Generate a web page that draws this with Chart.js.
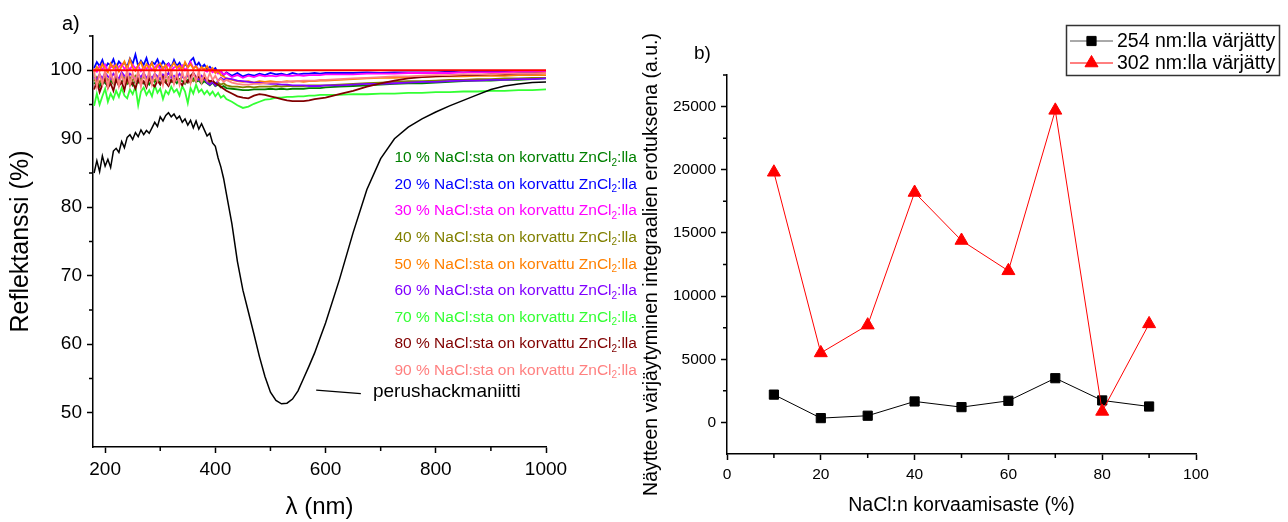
<!DOCTYPE html>
<html>
<head>
<meta charset="utf-8">
<title>Reflektanssi ja värjäytyminen</title>
<script src="https://cdn.jsdelivr.net/npm/chart.js@4.4.1/dist/chart.umd.min.js"></script>
<style>
  html, body { margin: 0; padding: 0; background: #fff; }
  #wrap { position: relative; width: 1288px; height: 522px; overflow: hidden; }
  #spectra { position: absolute; left: 0; top: 0; }
  #staining { position: absolute; left: 640px; top: 0; }
</style>
</head>
<body>
<div id="wrap">
  <canvas id="spectra" width="640" height="522"></canvas>
  <canvas id="staining" width="648" height="522"></canvas>
</div>
<script>
const FONT = '"Liberation Sans", Arial, sans-serif';
Chart.defaults.font.family = FONT;
Chart.defaults.color = '#000';

// ---- a) reflectance spectra ----
// wavelength grid in nm, shared by every spectrum
const wavelength = [
  180, 185, 190, 195, 200, 205, 210, 215, 220, 225, 230, 235, 240, 245, 250, 255, 260, 265, 270, 275,
  280, 285, 290, 295, 300, 305, 310, 315, 320, 325, 330, 335, 340, 345, 350, 355, 360, 365, 370, 375,
  380, 385, 390, 395, 400, 405, 410, 415, 420,
  430, 440, 450, 460, 470, 480, 490, 500, 510, 520, 530, 540, 550, 560, 570, 580, 590, 600,
  625, 650, 675, 700, 725, 750, 775, 800, 825, 850, 875, 900, 925, 950, 975, 1000
];

const perushackmaniitti = [
  85.0, 86.8, 85.2, 87.5, 86.0, 87.0, 85.8, 88.2, 88.6, 88.0, 89.6, 88.7, 90.2, 90.6, 89.9, 90.9, 90.3, 91.3, 90.6, 91.2,
  90.8, 91.6, 92.4, 91.8, 93.2, 92.6, 93.4, 93.8, 93.2, 93.6, 92.9, 93.3, 92.4, 92.9, 92.0, 92.7, 91.6, 92.6, 91.4, 92.2,
  91.3, 90.4, 90.8, 89.4, 88.9, 87.2, 85.9, 84.2, 82.0,
  77.6, 72.1, 67.9, 64.7, 61.5, 58.2, 55.3, 53.0, 51.8, 51.3, 51.4, 52.0, 53.2, 55.0, 56.8, 58.7, 60.9, 63.1,
  69.4, 76.3, 82.6, 87.1, 90.0, 91.7, 92.9, 93.9, 94.8, 95.6, 96.4, 97.2, 97.7, 98.0, 98.2, 98.3
];

const nacl10 = [
  98.0, 98.4, 97.6, 98.6, 98.1, 97.7, 98.5, 98.0, 98.7, 97.9, 98.3, 98.8, 98.0, 98.5, 97.8, 98.6, 98.2, 98.9, 98.1, 98.4,
  97.9, 98.7, 98.3, 98.8, 98.0, 98.5, 98.2, 98.9, 98.3, 98.6, 98.1, 98.7, 98.4, 98.0, 98.6, 98.2, 98.8, 98.3, 98.5, 98.0,
  98.4, 98.1, 97.8, 98.2, 97.7, 97.9, 97.5, 97.7, 97.4,
  97.3, 97.2, 97.1, 97.1, 97.2, 97.2, 97.2, 97.3, 97.2, 97.3, 97.2, 97.3, 97.3, 97.3, 97.4, 97.4, 97.4, 97.5,
  97.6, 97.7, 97.8, 97.9, 98.0, 98.1, 98.1, 98.2, 98.3, 98.4, 98.5, 98.5, 98.6, 98.6, 98.7, 98.8
];

const nacl20 = [
  100.3, 101.2, 100.6, 101.5, 100.2, 101.0, 100.7, 101.6, 100.4, 101.3, 100.8, 101.1, 100.5, 101.7, 100.9, 102.3, 100.6, 101.4, 100.8, 101.8,
  100.4, 101.2, 100.9, 101.6, 100.5, 101.3, 100.7, 101.0, 100.4, 101.5, 100.6, 101.1, 100.3, 100.9, 100.5, 101.4, 101.8, 100.6, 101.1, 100.4,
  100.8, 100.2, 100.5, 100.0, 100.3, 99.6, 99.9, 99.3, 99.7,
  99.2, 99.6, 99.1, 99.4, 99.2, 99.5, 99.3, 99.6, 99.4, 99.5, 99.3, 99.6, 99.4, 99.5, 99.5, 99.6, 99.5, 99.6,
  99.6, 99.6, 99.7, 99.6, 99.7, 99.7, 99.7, 99.7, 99.8, 99.7, 99.8, 99.8, 99.8, 99.8, 99.8, 99.8
];

const nacl30 = [
  100.2, 99.8, 100.6, 100.1, 100.8, 99.9, 100.4, 100.7, 100.0, 100.5, 100.9, 100.2, 100.6, 100.1, 100.8, 100.3, 100.6, 99.9, 100.5, 100.2,
  100.7, 100.0, 100.4, 100.8, 100.1, 100.5, 100.3, 100.9, 100.0, 100.4, 100.6, 100.2, 100.7, 100.0, 100.5, 101.2, 100.3, 100.6, 100.1, 100.4,
  100.0, 99.8, 100.2, 99.7, 99.9, 99.5, 99.8, 99.4, 99.6,
  99.0, 99.3, 98.9, 99.2, 99.0, 99.3, 99.1, 99.2, 99.1, 99.3, 99.2, 99.2, 99.3, 99.2, 99.3, 99.3, 99.3, 99.4,
  99.4, 99.4, 99.5, 99.5, 99.5, 99.6, 99.6, 99.6, 99.6, 99.7, 99.7, 99.7, 99.7, 99.8, 99.8, 99.8
];

const nacl40 = [
  98.4, 99.0, 98.2, 98.8, 99.3, 98.5, 98.9, 98.3, 99.1, 98.6, 99.4, 98.7, 98.2, 99.0, 98.5, 99.2, 98.8, 98.4, 99.1, 98.6,
  99.3, 98.9, 98.5, 99.0, 98.7, 99.2, 98.4, 98.9, 99.3, 98.6, 99.0, 98.5, 99.1, 98.7, 99.2, 98.8, 98.4, 98.9, 98.6, 98.3,
  98.7, 98.4, 98.1, 98.5, 98.0, 98.2, 97.9, 98.1, 97.8,
  97.6, 97.6, 97.5, 97.6, 97.5, 97.6, 97.6, 97.6, 97.7, 97.6, 97.7, 97.7, 97.7, 97.7, 97.8, 97.8, 97.8, 97.8,
  97.9, 98.0, 98.1, 98.2, 98.3, 98.4, 98.4, 98.5, 98.6, 98.6, 98.7, 98.7, 98.8, 98.8, 98.9, 98.9
];

const nacl50 = [
  99.6, 100.5, 99.9, 100.9, 100.2, 99.7, 101.0, 100.3, 100.8, 99.8, 100.6, 101.3, 100.1, 101.6, 100.4, 99.9, 100.7, 101.2, 100.0, 100.9,
  100.3, 101.1, 99.8, 100.6, 101.0, 100.2, 100.8, 99.9, 100.5, 101.1, 100.3, 100.7, 100.0, 101.2, 100.4, 100.9, 100.2, 100.6, 99.9, 100.5,
  100.1, 100.6, 99.8, 100.3, 99.6, 99.9, 99.3, 99.1, 98.8,
  98.6, 98.4, 98.3, 98.4, 98.2, 98.4, 98.3, 98.4, 98.3, 98.3, 98.4, 98.3, 98.4, 98.3, 98.4, 98.4, 98.5, 98.5,
  98.6, 98.7, 98.8, 98.9, 98.9, 99.0, 99.0, 99.1, 99.1, 99.1, 99.2, 99.2, 99.2, 99.3, 99.3, 99.3
];

const nacl60 = [
  99.0, 98.6, 99.4, 98.8, 99.6, 99.1, 98.7, 99.5, 99.0, 98.8, 99.7, 99.2, 98.9, 99.5, 99.1, 98.6, 99.4, 99.0, 99.6, 98.9,
  99.3, 98.8, 99.5, 99.1, 98.7, 99.4, 99.0, 99.6, 98.9, 99.2, 98.7, 99.5, 99.0, 98.8, 99.3, 98.9, 99.6, 99.0, 98.6, 99.2,
  98.8, 98.2, 97.9, 98.3, 97.8, 98.5, 98.9, 98.6, 98.8,
  98.7, 98.5, 98.4, 98.3, 98.2, 98.2, 98.1, 98.0, 98.0, 97.9, 97.9, 97.8, 97.8, 97.8, 97.7, 97.7, 97.7, 97.8,
  97.8, 97.9, 98.0, 98.0, 98.1, 98.2, 98.3, 98.3, 98.4, 98.5, 98.5, 98.6, 98.6, 98.7, 98.7, 98.8
];

const nacl70 = [
  94.8, 96.6, 95.0, 96.2, 97.3, 95.4, 96.6, 95.8, 97.0, 96.1, 97.4, 96.3, 95.9, 97.2, 96.5, 97.6, 94.9, 96.9, 97.5, 96.4,
  97.1, 96.2, 97.8, 96.7, 97.3, 95.8, 97.0, 96.5, 97.6, 96.8, 97.2, 96.3, 97.7, 96.9, 95.2, 97.4, 96.6, 97.9, 96.8, 97.2,
  96.5, 97.0, 96.4, 96.9, 96.2, 96.7, 96.0, 96.3, 95.8,
  95.4, 94.9, 94.5, 94.7, 95.1, 95.4, 95.7, 95.8, 96.0, 96.0, 96.1, 96.1, 96.2, 96.2, 96.3, 96.3, 96.4, 96.4,
  96.4, 96.5, 96.5, 96.6, 96.6, 96.7, 96.7, 96.8, 96.8, 96.9, 96.9, 97.0, 97.0, 97.1, 97.1, 97.2
];

const nacl80 = [
  97.2, 98.4, 96.8, 97.9, 98.8, 97.4, 98.1, 97.0, 98.6, 97.7, 98.3, 97.1, 98.9, 97.8, 98.2, 97.3, 98.7, 97.9, 98.4, 97.5,
  98.8, 98.0, 97.6, 98.5, 97.9, 99.0, 98.2, 97.7, 98.6, 98.1, 98.9, 98.3, 97.8, 98.7, 98.2, 99.2, 99.6, 98.8, 99.1, 98.5,
  98.9, 98.7, 98.4, 98.5, 98.1, 97.9, 97.6, 97.3, 97.0,
  96.6, 96.2, 96.0, 95.9, 96.3, 96.5, 96.4, 96.2, 96.0, 95.8, 95.6, 95.5, 95.5, 95.5, 95.6, 95.8, 95.9, 96.0,
  96.5, 97.0, 97.6, 98.1, 98.5, 98.8, 99.0, 99.1, 99.2, 99.3, 99.3, 99.4, 99.4, 99.5, 99.5, 99.6
];

const nacl90 = [
  99.8, 97.6, 99.5, 98.0, 100.0, 97.5, 99.7, 98.2, 99.9, 97.7, 99.4, 98.1, 100.1, 97.8, 99.6, 98.3, 99.9, 97.6, 99.8, 98.0,
  100.0, 97.9, 99.5, 98.4, 99.9, 97.8, 99.7, 98.2, 100.1, 98.0, 99.6, 97.9, 99.8, 98.3, 100.0, 98.1, 99.7, 98.4, 99.9, 98.2,
  99.5, 98.5, 99.6, 98.6, 99.2, 98.4, 98.8, 98.3, 98.6,
  98.2, 98.0, 97.9, 97.9, 98.0, 98.0, 98.1, 98.2, 98.2, 98.3, 98.3, 98.4, 98.4, 98.5, 98.5, 98.5, 98.6, 98.6,
  98.7, 98.8, 98.9, 99.0, 99.1, 99.1, 99.2, 99.3, 99.3, 99.4, 99.4, 99.4, 99.5, 99.5, 99.5, 99.6
];

// 100 % reference line
const referenceWl = [178, 1000];
const referenceLevel = [100, 100];

const replacementLevels = [10, 20, 30, 40, 50, 60, 70, 80, 90];
const replacementSpectra = [nacl10, nacl20, nacl30, nacl40, nacl50, nacl60, nacl70, nacl80, nacl90];
const replacementColors = ['#008000', '#0000FF', '#FF00FF', '#808000', '#FF8000', '#8000FF', '#33FF33', '#800000', '#FF8080'];

const spectraXTicks = [200, 400, 600, 800, 1000];
const spectraXMinor = [300, 500, 700, 900];
const spectraYTicks = [50, 60, 70, 80, 90, 100];
const spectraYMinor = [55, 65, 75, 85, 95, 105];

// ---- b) staining vs. substitution level ----
const substitution = [10, 20, 30, 40, 50, 60, 70, 80, 90];
const stained254 = [2200, 340, 530, 1660, 1210, 1710, 3500, 1740, 1260];
const stained302 = [19800, 5500, 7700, 18200, 14400, 12000, 24700, 870, 7800];

const stainingXTicks = [0, 20, 40, 60, 80, 100];
const stainingXMinor = [10, 30, 50, 70, 90];
const stainingYTicks = [0, 5000, 10000, 15000, 20000, 25000];
const stainingYMinor = [2500, 7500, 12500, 17500, 22500, 27500];

const toPoints = (xs, ys) => xs.map((x, i) => ({ x, y: ys[i] }));

// short minor tick marks on the outer side of both axes
const minorTicks = {
  id: 'minorTicks',
  afterDraw(chart, args, opts) {
    const ctx = chart.ctx, xs = chart.scales.x, ys = chart.scales.y;
    ctx.save();
    ctx.strokeStyle = '#000';
    ctx.lineWidth = opts.width || 1.5;
    ctx.beginPath();
    (opts.x || []).forEach(v => {
      const px = xs.getPixelForValue(v);
      ctx.moveTo(px, xs.top);
      ctx.lineTo(px, xs.top + opts.length);
    });
    (opts.y || []).forEach(v => {
      const py = ys.getPixelForValue(v);
      ctx.moveTo(ys.right, py);
      ctx.lineTo(ys.right - opts.length, py);
    });
    ctx.stroke();
    ctx.restore();
  }
};

function axisStyle(tickSize, titleText, titleSize, fixed, isX, titlePad) {
  return {
    type: 'linear',
    afterFit: s => { if (isX) s.height = fixed; else s.width = fixed; },
    grid: { drawOnChartArea: false, drawTicks: true, tickLength: 6, tickWidth: 1.5, tickColor: '#000' },
    border: { display: true, color: '#000', width: 1.5 },
    ticks: { color: '#000', font: { size: tickSize }, padding: 5, maxRotation: 0, autoSkip: false, callback: v => String(v) },
    title: { display: true, text: titleText, color: '#000', font: { size: titleSize }, padding: titlePad }
  };
}

// colour-coded sample list and the pointer to the base sample curve
const spectraNotes = {
  id: 'spectraNotes',
  afterDraw(chart) {
    const ctx = chart.ctx, xs = chart.scales.x, ys = chart.scales.y;
    ctx.save();
    ctx.textBaseline = 'middle';
    ctx.textAlign = 'left';
    ctx.fillStyle = '#000';
    ctx.font = `20px ${FONT}`;
    ctx.fillText('a)', 62, 24);

    const left = xs.getPixelForValue(725);
    const top = ys.getPixelForValue(87.2);
    replacementLevels.forEach((p, i) => {
      const y = top + i * 26.6;
      const head = `${p} % NaCl:sta on korvattu ZnCl`;
      ctx.fillStyle = replacementColors[i];
      ctx.font = `15.5px ${FONT}`;
      ctx.fillText(head, left, y);
      let x = left + ctx.measureText(head).width;
      ctx.font = `10px ${FONT}`;
      ctx.fillText('2', x, y + 5);
      x += ctx.measureText('2').width;
      ctx.font = `15.5px ${FONT}`;
      ctx.fillText(':lla', x, y);
    });

    ctx.strokeStyle = '#000';
    ctx.lineWidth = 1.3;
    ctx.beginPath();
    ctx.moveTo(xs.getPixelForValue(583), ys.getPixelForValue(53.3));
    ctx.lineTo(xs.getPixelForValue(664), ys.getPixelForValue(52.8));
    ctx.stroke();
    ctx.fillStyle = '#000';
    ctx.font = `19px ${FONT}`;
    ctx.fillText('perushackmaniitti', xs.getPixelForValue(686), ys.getPixelForValue(53.0));
    ctx.restore();
  }
};

const spectraDatasets = [
  { label: '100 %', data: toPoints(referenceWl, referenceLevel), borderColor: '#FF0000', borderWidth: 2, order: 0 },
  { label: 'perushackmaniitti', data: toPoints(wavelength, perushackmaniitti), borderColor: '#000000', borderWidth: 1.5, order: 1 }
];
replacementLevels.forEach((p, i) => {
  spectraDatasets.push({
    label: `${p} % NaCl:sta on korvattu ZnCl2:lla`,
    data: toPoints(wavelength, replacementSpectra[i]),
    borderColor: replacementColors[i],
    borderWidth: 1.8,
    order: 10 - i
  });
});
spectraDatasets.forEach(d => { d.pointRadius = 0; d.fill = false; d.tension = 0; });

const specX = axisStyle(19, 'λ (nm)', 24, 75, true, { top: 0, bottom: 0 });
specX.min = 178; specX.max = 1000;
specX.afterBuildTicks = s => { s.ticks = spectraXTicks.map(v => ({ value: v })); };
const specY = axisStyle(19, 'Reflektanssi (%)', 25, 93, false, { top: 6, bottom: 0 });
specY.min = 45; specY.max = 105;
specY.afterBuildTicks = s => { s.ticks = spectraYTicks.map(v => ({ value: v })); };

new Chart(document.getElementById('spectra'), {
  type: 'line',
  data: { datasets: spectraDatasets },
  options: {
    responsive: false,
    animation: false,
    events: [],
    layout: { padding: { left: 0, top: 36, right: 94, bottom: 0 } },
    scales: { x: specX, y: specY },
    plugins: {
      legend: { display: false },
      tooltip: { enabled: false },
      minorTicks: { x: spectraXMinor, y: spectraYMinor, length: 4 }
    }
  },
  plugins: [minorTicks, spectraNotes]
});

// framed legend with line + marker samples
const stainingLegend = {
  id: 'stainingLegend',
  afterDraw(chart) {
    const ctx = chart.ctx;
    ctx.save();
    ctx.fillStyle = '#000';
    ctx.textBaseline = 'middle';
    ctx.font = `19px ${FONT}`;
    ctx.fillText('b)', 54, 54);

    ctx.strokeStyle = '#333';
    ctx.lineWidth = 1.5;
    ctx.strokeRect(426.5, 25.5, 213, 50);
    chart.data.datasets.forEach((d, i) => {
      const y = 41 + i * 22;
      ctx.strokeStyle = d.legendLine;
      ctx.lineWidth = 1;
      ctx.beginPath();
      ctx.moveTo(430, y);
      ctx.lineTo(473, y);
      ctx.stroke();
      ctx.fillStyle = d.pointBackgroundColor;
      ctx.strokeStyle = d.pointBorderColor;
      Chart.helpers.drawPoint(ctx, { pointStyle: d.pointStyle, radius: d.pointRadius, rotation: 0, borderWidth: 1 }, 451.5, y);
      ctx.fillStyle = '#000';
      ctx.font = `19.5px ${FONT}`;
      ctx.fillText(d.label, 477, y + 1);
    });
    ctx.restore();
  }
};

const stX = axisStyle(15.5, 'NaCl:n korvaamisaste (%)', 19.5, 68, true, { top: 0, bottom: 5 });
stX.min = 0; stX.max = 100;
stX.afterBuildTicks = s => { s.ticks = stainingXTicks.map(v => ({ value: v })); };
const stY = axisStyle(15.5, 'Näytteen värjäytyminen integraalien erotuksena (a.u.)', 19.5, 87, false, { top: 0, bottom: 0 });
stY.min = -2500; stY.max = 27500;
stY.afterBuildTicks = s => { s.ticks = stainingYTicks.map(v => ({ value: v })); };

new Chart(document.getElementById('staining'), {
  type: 'line',
  data: {
    datasets: [
      {
        label: '254 nm:lla värjätty',
        data: toPoints(substitution, stained254),
        borderColor: '#000000', borderWidth: 1, legendLine: '#555555',
        pointStyle: 'rect', pointRadius: 6.5,
        pointBackgroundColor: '#000000', pointBorderColor: '#000000',
        order: 1
      },
      {
        label: '302 nm:lla värjätty',
        data: toPoints(substitution, stained302),
        borderColor: '#FF0000', borderWidth: 1, legendLine: '#FF0000',
        pointStyle: 'triangle', pointRadius: 7.5,
        pointBackgroundColor: '#FF0000', pointBorderColor: '#FF0000',
        order: 0
      }
    ]
  },
  options: {
    responsive: false,
    animation: false,
    events: [],
    layout: { padding: { left: 0, top: 75, right: 92, bottom: 0 } },
    scales: { x: stX, y: stY },
    elements: { line: { tension: 0 } },
    plugins: {
      legend: { display: false },
      tooltip: { enabled: false },
      minorTicks: { x: stainingXMinor, y: stainingYMinor, length: 4 }
    }
  },
  plugins: [minorTicks, stainingLegend]
});
</script>
</body>
</html>
